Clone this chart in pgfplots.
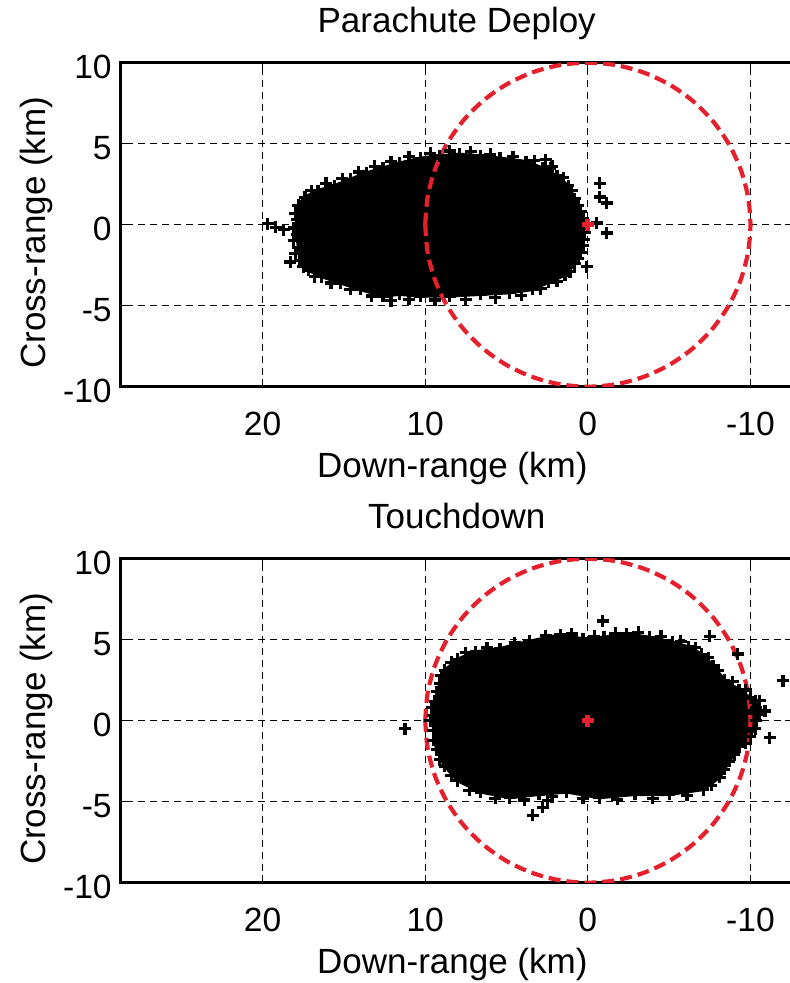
\documentclass[border=0pt]{standalone}
\usepackage{fontspec}
\setmainfont{Liberation Sans}
\usepackage{pgfplots}
\usepackage{pgfplotstable}
\pgfplotsset{compat=1.18}
\definecolor{circred}{RGB}{228,32,44}

\pgfplotstableread{
x y
10 0
9.848 1.736
9.397 3.420
8.660 5
7.660 6.428
6.428 7.660
5 8.660
3.420 9.397
1.736 9.848
0 10
-1.736 9.848
-3.420 9.397
-5 8.660
-6.428 7.660
-7.660 6.428
-8.660 5
-9.397 3.420
-9.848 1.736
-10 0
-9.848 -1.736
-9.397 -3.420
-8.660 -5
-7.660 -6.428
-6.428 -7.660
-5 -8.660
-3.420 -9.397
-1.736 -9.848
0 -10
1.736 -9.848
3.420 -9.397
5 -8.660
6.428 -7.660
7.660 -6.428
8.660 -5
9.397 -3.420
9.848 -1.736
10 0
}\circletable

% Parachute deploy: outline of the dense cloud of dispersion points
\pgfplotstableread{
x y
17.8 1.2
17.4 1.7
16.6 2.1
15.6 2.4
14.6 2.8
13.6 3.2
12.6 3.5
11.6 3.8
10.3 4.1
9.1 4.25
7.9 4.35
6.6 4.25
5.4 4.1
3.8 3.9
2.8 3.5
1.9 3.0
1.2 2.4
0.8 1.6
0.45 0.8
0.25 0
0.25 -0.9
0.45 -1.7
0.8 -2.4
1.4 -3.1
2.4 -3.55
3.4 -4.0
4.8 -4.2
6.6 -4.3
8.5 -4.4
10.3 -4.4
11.6 -4.3
12.6 -4.4
14.0 -4.0
15.2 -3.6
16.4 -3.2
17.2 -2.8
17.7 -2.2
17.8 -1.4
17.9 -0.6
17.9 0.3
}\deployblob

% Parachute deploy: edge points and outliers
\pgfplotstableread{
x y
19.7 0.05
19.2 -0.15
18.7 -0.3
18.3 -2.3
2.6 4.0
2.2 3.6
-0.74 2.56
-0.74 1.71
-1.17 1.34
-0.55 0.1
-1.17 -0.51
0.06 -2.6
17.0 2.1
16.1 2.55
15.1 2.85
14.1 3.25
13.1 3.6
12.1 3.9
11.0 4.2
9.7 4.4
8.5 4.55
7.2 4.5
6.0 4.35
4.6 4.2
3.3 3.95
2.3 3.5
1.5 2.9
1.0 2.1
0.6 1.2
0.3 0.4
0.2 -0.5
0.3 -1.3
0.6 -2.1
1.1 -2.9
1.9 -3.5
2.9 -3.95
4.1 -4.35
5.7 -4.5
7.5 -4.6
9.4 -4.65
11.0 -4.6
12.1 -4.7
13.3 -4.4
14.6 -4.0
15.8 -3.6
16.8 -3.2
17.5 -2.6
18.0 -1.8
18.1 -1.0
18.1 -0.2
18.0 0.7
}\deployout

% Touchdown: outline of the dense cloud of dispersion points
\pgfplotstableread{
x y
9.4 1.2
9.1 2.3
8.8 3.1
8.0 3.8
6.9 4.25
5.4 4.45
3.6 4.9
1.7 5.3
0.3 5.05
-1.0 5.15
-2.4 5.35
-3.8 5.15
-5.2 4.85
-6.2 4.55
-7.0 4.1
-7.7 3.4
-8.4 2.5
-9.3 1.9
-10.0 1.4
-10.35 0.8
-10.35 0
-10.0 -1.0
-9.3 -1.6
-8.7 -2.5
-8.1 -3.5
-7.1 -4.25
-5.0 -4.55
-2.9 -4.55
-0.7 -4.75
1.3 -4.4
3.0 -4.55
4.8 -4.75
6.6 -4.4
8.0 -3.7
8.8 -2.8
9.3 -1.8
9.5 -0.6
9.5 0.3
}\touchblob

% Touchdown: edge points and outliers
\pgfplotstableread{
x y
11.25 -0.49
-0.92 6.15
2.77 -5.35
3.38 -5.84
2.46 -4.92
-7.5 5.22
-9.22 4.12
-11.19 -1.04
-12.0 2.46
-10.58 1.23
-10.9 0.6
9.3 1.8
9.0 2.8
8.4 3.6
7.5 4.2
6.2 4.5
4.5 4.8
2.6 5.25
1.0 5.35
-0.4 5.2
-1.7 5.4
-3.1 5.45
-4.5 5.2
-5.7 4.9
-6.6 4.5
-7.4 3.9
-8.0 3.1
-8.9 2.4
-9.7 1.9
-10.3 1.2
-10.55 0.4
-10.3 -0.5
-9.7 -1.4
-9.0 -2.1
-8.4 -3.0
-7.6 -4.0
-6.1 -4.6
-4.0 -4.8
-1.8 -4.85
0.3 -4.8
2.2 -4.7
3.9 -4.9
5.7 -4.8
7.3 -4.3
8.4 -3.4
9.1 -2.4
9.5 -1.2
9.7 0.0
9.6 0.8
}\touchout

\begin{document}
\begin{tikzpicture}
\useasboundingbox (0,0) rectangle (395pt,491.5pt);
\pgfplotsset{
  mcstyle/.style={
    scale only axis, width=336pt, height=162pt,
    x dir=reverse, xmin=-12.6, xmax=28.73, ymin=-10, ymax=10,
    xtick={-10,0,10,20}, xticklabels={-10,0,10,20},
    ytick={-10,-5,0,5,10}, yticklabels={-10,-5,0,5,10},
    grid=major,
    major grid style={black, line width=0.55pt, dash pattern=on 3.5pt off 2.5pt},
    axis line style={black, line width=1.3pt},
    tick align=inside, major tick length=4pt,
    tick style={black, line width=0.6pt},
    label style={font=\fontsize{17.5}{20}\selectfont},
    title style={font=\fontsize{17.5}{20}\selectfont},
    ticklabel style={font=\fontsize{16.8}{19}\selectfont},
    xticklabel style={anchor=base, yshift=-24.2pt},
    yticklabel style={anchor=east, xshift=-1pt, yshift=-2pt},
    xlabel style={at={(axis description cs:0.4935,0)}, anchor=base, yshift=-45.6pt},
    ylabel style={at={(axis description cs:-0.1116,0.475)}, anchor=base},
    xlabel={Down-range (km)}, ylabel={Cross-range (km)},
    title style={at={(0.5,1)}, anchor=base, yshift=9pt},
  },
  blobstyle/.style={black, fill=black, line width=1.6pt, mark=+, mark size=3pt,
    mark options={line width=1.6pt}},
  outstyle/.style={only marks, black, mark=+, mark size=3pt,
    mark options={line width=1.6pt}},
  circstyle/.style={circred, line width=2.1pt, dash pattern=on 6pt off 3pt, smooth},
  centstyle/.style={only marks, circred, mark=+, mark size=3pt,
    mark options={line width=2.4pt}},
}
\begin{axis}[mcstyle, at={(60.35pt,298.15pt)}, anchor=south west,
  title={Parachute Deploy}]
\addplot[blobstyle] table {\deployblob} -- cycle;
\addplot[outstyle] table {\deployout};
\addplot[circstyle] table {\circletable};
\addplot[centstyle] coordinates {(0,0)};
\end{axis}
\begin{axis}[mcstyle, at={(60.35pt,50.15pt)}, anchor=south west,
  title={Touchdown}]
\addplot[blobstyle] table {\touchblob} -- cycle;
\addplot[outstyle] table {\touchout};
\addplot[circstyle] table {\circletable};
\addplot[centstyle] coordinates {(0,0)};
\end{axis}
\end{tikzpicture}
\end{document}
